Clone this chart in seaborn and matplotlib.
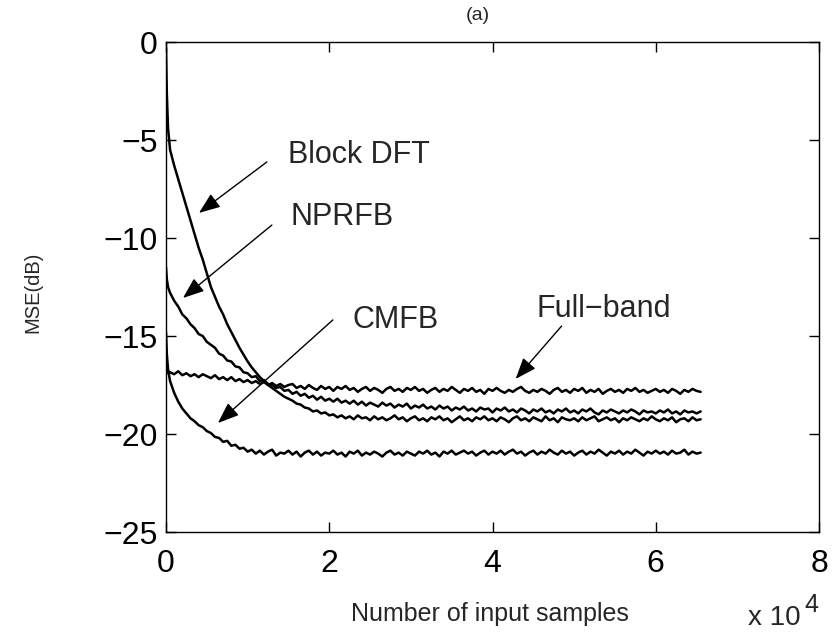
import numpy as np
import pandas as pd
import matplotlib
matplotlib.use("Agg")
import matplotlib.pyplot as plt
import seaborn as sns

# ---- data ----
samples = [0, 100, 250] + list(range(500, 65501, 500))

full_band = [-16.7, -16.9, -16.8,
    -16.85, -16.95, -16.8, -17.0, -16.9, -17.05, -16.95, -17.1, -16.95, -17.05,
    -17.15, -17.0, -17.2, -17.1, -17.25, -17.1, -17.3, -17.2, -17.35, -17.25,
    -17.4, -17.3, -17.45, -17.35, -17.5, -17.4, -17.55, -17.45, -17.6, -17.5,
    -17.45, -17.65, -17.55, -17.7, -17.5, -17.65, -17.75, -17.55, -17.7, -17.6,
    -17.8, -17.6, -17.7, -17.55, -17.75, -17.65, -17.85, -17.7, -17.6, -17.8,
    -17.65, -17.75, -17.9, -17.7, -17.6, -17.8, -17.7, -17.85, -17.65, -17.75,
    -17.6, -17.8, -17.7, -17.9, -17.75, -17.65, -17.85, -17.7, -17.8, -17.6,
    -17.75, -17.9, -17.7, -17.8, -17.65, -17.85, -17.75, -17.95, -17.7, -17.8,
    -17.65, -17.8, -17.9, -17.75, -17.85, -17.7, -17.6, -17.8, -17.9, -17.75,
    -17.85, -17.7, -17.8, -17.95, -17.75, -17.65, -17.85, -17.75, -17.9, -17.7,
    -17.8, -17.65, -17.9, -17.75, -17.85, -17.7, -17.95, -17.8, -17.7, -17.85,
    -17.75, -17.9, -17.7, -17.8, -17.65, -17.85, -17.75, -17.9, -17.8, -17.7,
    -17.85, -17.75, -17.9, -17.7, -17.8, -17.95, -17.75, -17.85, -17.7, -17.8,
    -17.85]

nprfb = [-11.5, -12.1, -12.5,
    -12.8, -13.2, -13.5, -13.9, -14.1, -14.4, -14.6, -14.9, -15.0, -15.3,
    -15.45, -15.6, -15.9, -16.0, -16.25, -16.3, -16.55, -16.6, -16.85, -16.9,
    -17.1, -17.05, -17.3, -17.25, -17.45, -17.5, -17.65, -17.6, -17.8, -17.75,
    -17.95, -17.85, -18.05, -17.95, -18.15, -18.05, -18.25, -18.1, -18.3, -18.2,
    -18.35, -18.2, -18.4, -18.3, -18.45, -18.3, -18.5, -18.35, -18.55, -18.4,
    -18.5, -18.6, -18.4, -18.55, -18.45, -18.65, -18.5, -18.6, -18.45, -18.7,
    -18.55, -18.65, -18.5, -18.7, -18.6, -18.75, -18.55, -18.7, -18.6, -18.8,
    -18.65, -18.75, -18.6, -18.8, -18.7, -18.85, -18.65, -18.75, -18.7, -18.9,
    -18.7, -18.8, -18.65, -18.85, -18.75, -18.9, -18.7, -18.8, -18.95, -18.75,
    -18.85, -18.7, -18.9, -18.8, -18.95, -18.75, -18.85, -18.7, -18.9, -18.8,
    -18.95, -18.75, -18.85, -18.7, -18.9, -19.0, -18.8, -18.9, -18.75, -18.85,
    -18.95, -18.8, -18.9, -18.75, -18.85, -19.0, -18.8, -18.9, -18.85, -18.95,
    -18.8, -18.9, -18.75, -18.95, -18.85, -19.0, -18.8, -18.9, -18.85, -18.95,
    -18.85]

block_dft = [-0.3, -2.6, -4.4,
    -5.5, -6.3, -7.0, -7.7, -8.4, -9.1, -9.8, -10.5, -11.1, -11.8,
    -12.5, -13.0, -13.5, -13.9, -14.4, -14.8, -15.2, -15.6, -15.95, -16.3,
    -16.6, -16.85, -17.1, -17.3, -17.5, -17.65, -17.8, -17.95, -18.1, -18.2,
    -18.3, -18.45, -18.5, -18.65, -18.7, -18.85, -18.8, -18.95, -18.9, -19.05,
    -19.0, -19.15, -19.05, -19.2, -19.1, -19.25, -19.05, -19.2, -19.15, -19.3,
    -19.1, -19.25, -19.15, -19.3, -19.2, -19.05, -19.25, -19.15, -19.35, -19.2,
    -19.1, -19.3, -19.2, -19.35, -19.15, -19.25, -19.1, -19.3, -19.2, -19.4,
    -19.25, -19.1, -19.3, -19.2, -19.35, -19.15, -19.25, -19.1, -19.3, -19.2,
    -19.35, -19.15, -19.25, -19.4, -19.2, -19.1, -19.3, -19.2, -19.35, -19.15,
    -19.25, -19.35, -19.1, -19.3, -19.2, -19.4, -19.15, -19.25, -19.3, -19.2,
    -19.35, -19.15, -19.3, -19.2, -19.1, -19.35, -19.25, -19.15, -19.3, -19.2,
    -19.4, -19.2, -19.3, -19.15, -19.25, -19.35, -19.2, -19.3, -19.1, -19.25,
    -19.35, -19.2, -19.3, -19.15, -19.4, -19.25, -19.2, -19.35, -19.15, -19.3,
    -19.25]

cmfb = [-14.8, -15.9, -16.7,
    -17.3, -17.9, -18.35, -18.7, -18.95, -19.2, -19.35, -19.55, -19.65, -19.85,
    -19.95, -20.15, -20.2, -20.4, -20.35, -20.6, -20.55, -20.75, -20.7, -20.9,
    -20.8, -21.0, -20.85, -21.05, -20.9, -20.8, -21.1, -20.95, -21.0, -20.85,
    -21.05, -20.9, -21.15, -20.95, -20.85, -21.05, -20.9, -21.1, -20.95, -21.0,
    -20.85, -21.05, -20.95, -21.15, -20.9, -21.0, -20.85, -21.1, -20.95, -21.05,
    -20.9, -21.0, -21.15, -20.95, -20.85, -21.05, -20.95, -21.1, -20.9, -21.0,
    -21.1, -20.9, -21.0, -20.85, -21.05, -20.95, -21.15, -20.9, -21.0, -20.85,
    -21.05, -20.95, -20.85, -21.0, -20.9, -21.1, -20.95, -20.85, -21.05, -20.9,
    -21.0, -20.85, -21.05, -20.9, -20.8, -21.0, -20.9, -21.1, -20.95, -20.85,
    -21.05, -20.9, -21.0, -20.8, -20.95, -21.05, -20.85, -21.0, -20.9, -21.1,
    -20.95, -20.85, -21.05, -20.9, -21.0, -20.8, -20.95, -21.1, -20.9, -21.0,
    -20.85, -21.05, -20.9, -21.0, -20.8, -20.95, -21.1, -20.9, -21.0, -20.85,
    -21.0, -20.9, -21.05, -20.85, -21.0, -20.95, -20.8, -21.05, -20.9, -21.0,
    -20.95]

curve_names = ["Full\u2212band", "NPRFB", "Block DFT", "CMFB"]
curve_values = [full_band, nprfb, block_dft, cmfb]

# label text position (x, y) and arrow tail -> tip, in data units
label_pos = [(45400, -13.62), (15200, -8.95), (14900, -5.78), (22800, -14.2)]
arrow_tail = [(48470, -14.49), (12970, -9.34), (12360, -6.12), (20440, -14.18)]
arrow_tip = [(42840, -17.19), (2080, -13.06), (4040, -8.72), (6360, -19.44)]

x_ticks = [0, 20000, 40000, 60000, 80000]
x_tick_labels = ["0", "2", "4", "6", "8"]
y_ticks = [-25, -20, -15, -10, -5, 0]

# ---- build long-form table ----
rows = []
for name, vals in zip(curve_names, curve_values):
    assert len(vals) == len(samples), (name, len(vals), len(samples))
    for s, v in zip(samples, vals):
        rows.append((name, s, v))
df = pd.DataFrame(rows, columns=["curve", "samples", "mse"])

sns.set_style("ticks")
plt.rcParams["font.family"] = ["Liberation Sans", "DejaVu Sans"]
plt.rcParams["axes.unicode_minus"] = True

fig = plt.figure(figsize=(8.33, 6.34), dpi=100)
ax = fig.add_axes([166 / 833, 1 - 532 / 634, (819 - 166) / 833, (532 - 42) / 634])

sns.lineplot(data=df, x="samples", y="mse", units="curve", estimator=None,
             color="black", linewidth=1.8, ax=ax, legend=False)

ax.set_xlim(0, 80000)
ax.set_ylim(-25, 0)
ax.set_xticks(x_ticks)
ax.set_xticklabels(x_tick_labels)
ax.set_yticks(y_ticks)
ax.set_yticklabels([str(t).replace("-", "\u2212") for t in y_ticks])

for sp in ax.spines.values():
    sp.set_visible(True)
    sp.set_linewidth(1.0)
    sp.set_color("black")
ax.tick_params(direction="in", length=7, width=1.0, top=True, right=True,
               labelsize=23, colors="black")
ax.tick_params(axis="x", pad=12.5)
ax.tick_params(axis="y", pad=6)

ax.set_xlabel("Number of input samples", fontsize=18)
ax.xaxis.set_label_coords(0.496, -0.142)
ax.set_ylabel("MSE(dB)", fontsize=14.5)
ax.yaxis.set_label_coords(-0.19, 0.49)

ax.text(0.478, 1.045, "(a)", transform=ax.transAxes, fontsize=14,
        ha="center", va="baseline")
ax.text(0.891, -0.190, "x 10", transform=ax.transAxes, fontsize=20,
        ha="left", va="baseline")
ax.text(0.977, -0.163, "4", transform=ax.transAxes, fontsize=18,
        ha="left", va="baseline")

for name, lp, tail, tip in zip(curve_names, label_pos, arrow_tail, arrow_tip):
    ax.text(lp[0], lp[1], name, fontsize=22, ha="left", va="center")
    ax.annotate("", xy=tip, xytext=tail,
                arrowprops=dict(arrowstyle="-|>,head_length=0.65,head_width=0.25",
                                mutation_scale=20, color="black", lw=1.0,
                                shrinkA=0, shrinkB=0))

fig.savefig("out.png", dpi=100)
